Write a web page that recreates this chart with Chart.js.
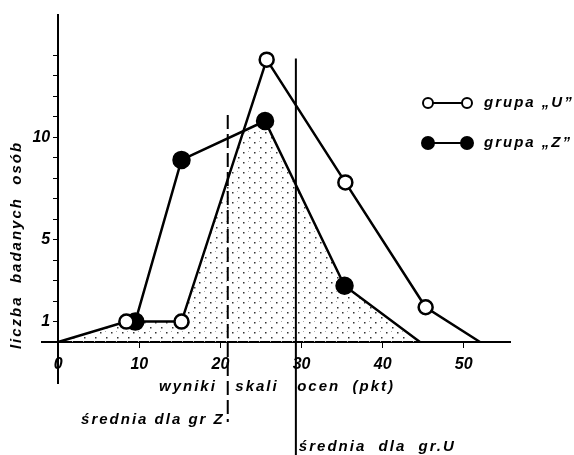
<!DOCTYPE html>
<html>
<head>
<meta charset="utf-8">
<script src="https://cdn.jsdelivr.net/npm/chart.js@4/dist/chart.umd.min.js"></script>
<style>
  body { margin: 0; background: #fff; }
  #box { width: 574px; height: 455px; }
</style>
</head>
<body>
<div id="box"><canvas id="myChart"></canvas></div>
<script>
// data
var uX = [0, 8.4, 15.2, 25.7, 35.4, 45.3, 52];
var uY = [0, 1, 1, 13.8, 7.8, 1.7, 0];
var zX = [9.5, 15.2, 25.5, 35.3, 44.6];
var zY = [1, 8.9, 10.8, 2.75, 0];
// shaded overlap of both polygons
var oX = [0, 8.4, 15.2, 22.8, 25.5, 35.3, 44.6];
var oY = [0, 1, 1, 10.3, 10.8, 2.75, 0];
var meanZ = 20.9;
var meanU = 29.3;
var xTicks = [0, 10, 20, 30, 40, 50];
var yTicks = [1, 2, 3, 4, 5, 6, 7, 8, 9, 10, 11, 12, 13, 14];
var yLabels = { 1: '1', 5: '5', 10: '10' };
var legendU = 'grupa „U”';
var legendZ = 'grupa „Z”';
var xTitle = 'wyniki   skali   ocen  (pkt)';
var yTitle = 'liczba  badanych  osób';
var labelZ = 'średnia dla gr Z';
var labelU = 'średnia  dla  gr.U';

function pts(xs, ys) {
    return xs.map(function (x, i) { return { x: x, y: ys[i] }; });
}

// stipple pattern for the overlap
var pc = document.createElement('canvas');
pc.width = 11; pc.height = 10;
var pctx = pc.getContext('2d');
pctx.fillStyle = '#333';
pctx.fillRect(1, 2, 1.5, 1.5);
pctx.fillRect(7, 7, 1.5, 1.5);
pctx.fillStyle = '#aaa';
pctx.fillRect(6, 1, 1, 1);
var stipple = pctx.createPattern(pc, 'repeat');

var FONT = 'Liberation Sans';
var tickFont = { family: FONT, size: 16, weight: 'bold', style: 'italic' };

var extras = {
    id: 'extras',
    afterDraw: function (chart) {
        var ctx = chart.ctx;
        var xs = chart.scales.x, ys = chart.scales.y;
        ctx.save();
        ctx.strokeStyle = '#000';
        ctx.fillStyle = '#000';
        // mean lines
        ctx.lineWidth = 2;
        ctx.setLineDash([14, 5]);
        ctx.beginPath();
        ctx.moveTo(xs.getPixelForValue(meanZ), ys.getPixelForValue(11.1));
        ctx.lineTo(xs.getPixelForValue(meanZ), ys.getPixelForValue(-3.9));
        ctx.stroke();
        ctx.setLineDash([]);
        ctx.beginPath();
        ctx.moveTo(xs.getPixelForValue(meanU), ys.getPixelForValue(13.85));
        ctx.lineTo(xs.getPixelForValue(meanU), ys.getPixelForValue(-5.6));
        ctx.stroke();

        ctx.font = 'italic bold 15px "' + FONT + '"';
        ctx.letterSpacing = '2px';
        ctx.textBaseline = 'middle';
        // axis titles
        ctx.textAlign = 'center';
        ctx.fillText(xTitle, 277, 387);
        ctx.textAlign = 'right';
        ctx.fillText(labelZ, xs.getPixelForValue(meanZ) - 3, 420);
        ctx.textAlign = 'left';
        ctx.fillText(labelU, xs.getPixelForValue(meanU) + 3, 447);
        ctx.save();
        ctx.translate(17, 245);
        ctx.rotate(-Math.PI / 2);
        ctx.textAlign = 'center';
        ctx.fillText(yTitle, 0, 0);
        ctx.restore();

        // legend
        ctx.lineWidth = 2;
        [[legendU, 103, false], [legendZ, 143, true]].forEach(function (l) {
            ctx.beginPath();
            ctx.moveTo(428, l[1]);
            ctx.lineTo(467, l[1]);
            ctx.stroke();
            [428, 467].forEach(function (cx) {
                ctx.beginPath();
                ctx.arc(cx, l[1], l[2] ? 6 : 5, 0, Math.PI * 2);
                ctx.fillStyle = l[2] ? '#000' : '#fff';
                ctx.fill();
                ctx.stroke();
            });
            ctx.fillStyle = '#000';
            ctx.textAlign = 'left';
            ctx.fillText(l[0], 484, l[1]);
        });
        ctx.restore();
    }
};

var ctx = document.getElementById('myChart').getContext('2d');
var chart = new Chart(ctx, {
    type: 'scatter',
    data: {
        datasets: [
            {
                label: legendU,
                data: pts(uX, uY),
                showLine: true,
                borderColor: '#000',
                borderWidth: 2.5,
                pointBackgroundColor: '#fff',
                pointBorderColor: '#000',
                pointBorderWidth: 2.5,
                pointRadius: [0, 7, 7, 7, 7, 7, 0]
            },
            {
                label: legendZ,
                data: pts(zX, zY),
                showLine: true,
                borderColor: '#000',
                borderWidth: 2.5,
                pointBackgroundColor: '#000',
                pointBorderColor: '#000',
                pointRadius: [8, 8, 8, 8, 0]
            },
            {
                label: 'overlap',
                data: pts(oX, oY),
                showLine: true,
                fill: 'origin',
                backgroundColor: stipple,
                borderWidth: 0,
                pointRadius: 0
            }
        ]
    },
    options: {
        responsive: true,
        maintainAspectRatio: false,
        animation: false,
        layout: { padding: { left: 42, right: 64, top: 7, bottom: 72 } },
        plugins: { legend: { display: false }, tooltip: { enabled: false } },
        scales: {
            x: {
                type: 'linear',
                min: -2,
                max: 55.7,
                position: { y: 0 },
                afterBuildTicks: function (s) { s.ticks = xTicks.map(function (v) { return { value: v }; }); },
                grid: { drawOnChartArea: false, drawTicks: true, tickLength: 5, color: '#000' },
                border: { color: '#000', width: 2 },
                ticks: { color: '#000', font: tickFont, padding: 8, maxRotation: 0 }
            },
            y: {
                type: 'linear',
                min: -2,
                max: 16,
                position: { x: 0 },
                afterBuildTicks: function (s) { s.ticks = yTicks.map(function (v) { return { value: v }; }); },
                grid: { drawOnChartArea: false, drawTicks: true, tickLength: 4, color: '#000' },
                border: { color: '#000', width: 2 },
                ticks: {
                    color: '#000', font: tickFont, padding: 5,
                    callback: function (v) { return yLabels[v] ? yLabels[v] + '\u2002' : ''; }
                }
            }
        }
    },
    plugins: [extras]
});
</script>
</body>
</html>
